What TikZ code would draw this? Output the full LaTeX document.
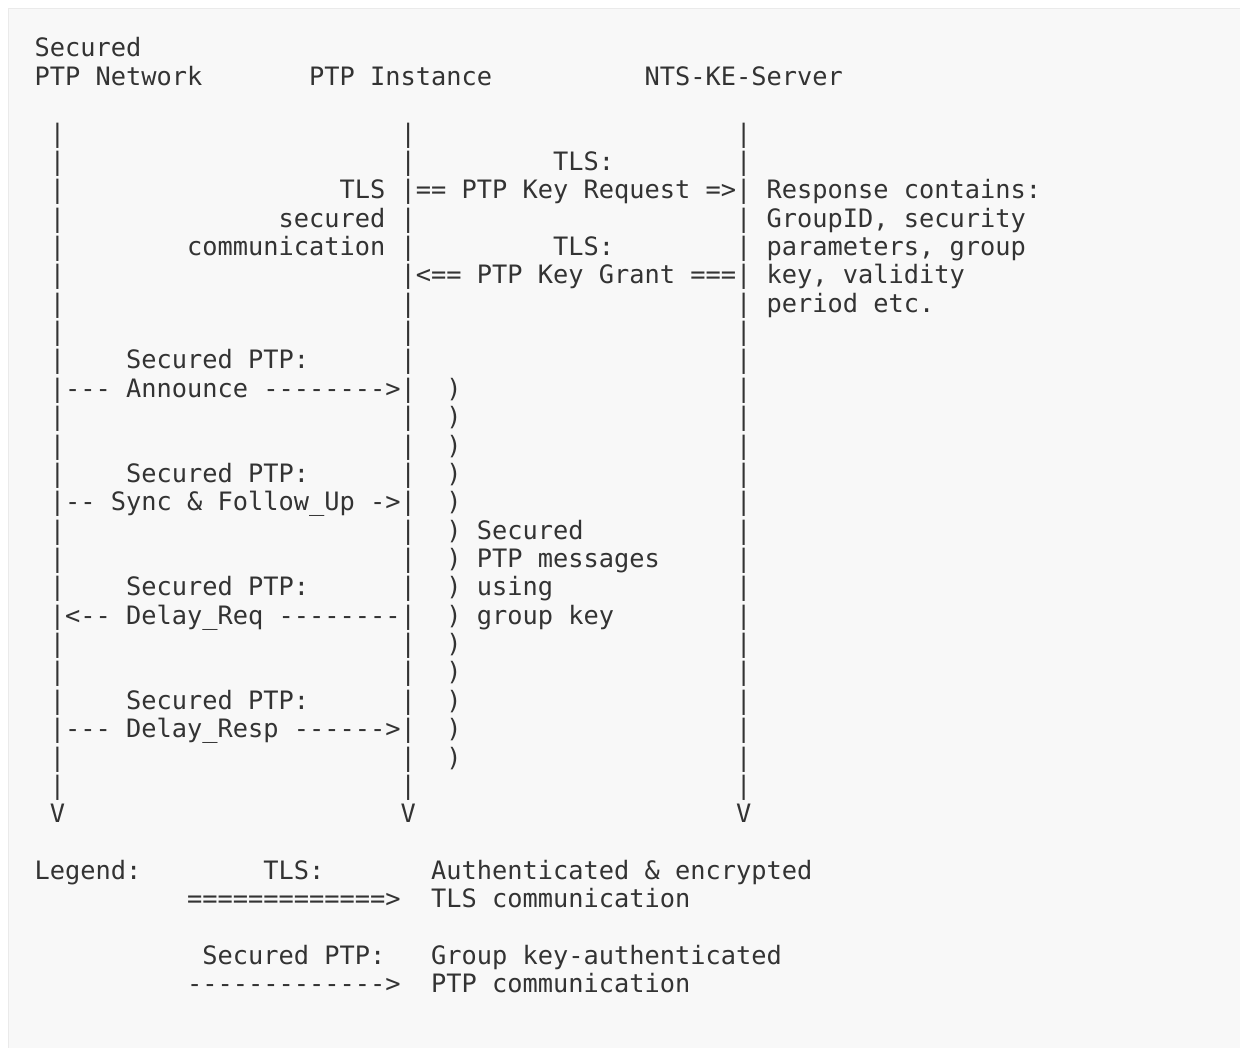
\documentclass[tikz,border=0pt]{standalone}
\usepackage{fontspec}
\setmonofont{DejaVu Sans Mono}
\definecolor{pagebg}{HTML}{F8F8F8}
\definecolor{boxline}{HTML}{EAEAEA}
\definecolor{ink}{HTML}{333333}
\tikzset{
  asc/.style={anchor=base west, inner sep=0pt, outer sep=0pt, text=ink,
    font=\ttfamily\fontsize{19}{21.27}\selectfont}
}
% column c, row r -> position (1px = 0.75pt)
\newcommand\asc[4]{\node[asc] (#1) at ({(34.6+15.25*#2)*0.75pt},{-(57+28.36*#3)*0.75pt}) {#4};}
\begin{document}
\begin{tikzpicture}
\useasboundingbox (0,0) rectangle (930pt,-786pt);
\fill[white] (0,0) rectangle (930pt,-786pt);
\filldraw[fill=pagebg, draw=boxline, line width=1.2pt] (6.5pt,-6.5pt) rectangle (940pt,-800pt);
% headers
\asc{h0}{0}{0}{Secured}
\asc{h1}{0}{1}{PTP Network}
\asc{h2}{18}{1}{PTP Instance}
\asc{h3}{40}{1}{NTS-KE-Server}
% lifelines
\foreach \r in {3,...,26}{
  \asc{la\r}{1}{\r}{|}
  \asc{lb\r}{24}{\r}{|}
  \asc{lc\r}{46}{\r}{|}
}
\foreach \r/\c in {27/1,27/24,27/46}{\asc{v\c}{\c}{\r}{V}}
% TLS exchange
\asc{t1}{34}{4}{TLS:}
\asc{t2}{20}{5}{TLS}
\asc{t3}{25}{5}{== PTP Key Request =>}
\asc{t4}{48}{5}{Response contains:}
\asc{t5}{16}{6}{secured}
\asc{t6}{48}{6}{GroupID, security}
\asc{t7}{10}{7}{communication}
\asc{t8}{34}{7}{TLS:}
\asc{t9}{48}{7}{parameters, group}
\asc{t10}{25}{8}{<== PTP Key Grant ===}
\asc{t11}{48}{8}{key, validity}
\asc{t12}{48}{9}{period etc.}
% secured PTP messages
\asc{s1}{6}{11}{Secured PTP:}
\asc{s2}{2}{12}{--- Announce -------->}
\asc{s3}{6}{15}{Secured PTP:}
\asc{s4}{2}{16}{-- Sync \& Follow\_Up ->}
\asc{s5}{6}{19}{Secured PTP:}
\asc{s6}{2}{20}{<-- Delay\_Req --------}
\asc{s7}{6}{23}{Secured PTP:}
\asc{s8}{2}{24}{--- Delay\_Resp ------>}
\foreach \r in {12,...,25}{\asc{p\r}{27}{\r}{)}}
\asc{g1}{29}{17}{Secured}
\asc{g2}{29}{18}{PTP messages}
\asc{g3}{29}{19}{using}
\asc{g4}{29}{20}{group key}
% legend
\asc{l1}{0}{29}{Legend:}
\asc{l2}{15}{29}{TLS:}
\asc{l3}{26}{29}{Authenticated \& encrypted}
\asc{l4}{10}{30}{=============>}
\asc{l5}{26}{30}{TLS communication}
\asc{l6}{11}{32}{Secured PTP:}
\asc{l7}{26}{32}{Group key-authenticated}
\asc{l8}{10}{33}{------------->}
\asc{l9}{26}{33}{PTP communication}
\end{tikzpicture}
\end{document}
